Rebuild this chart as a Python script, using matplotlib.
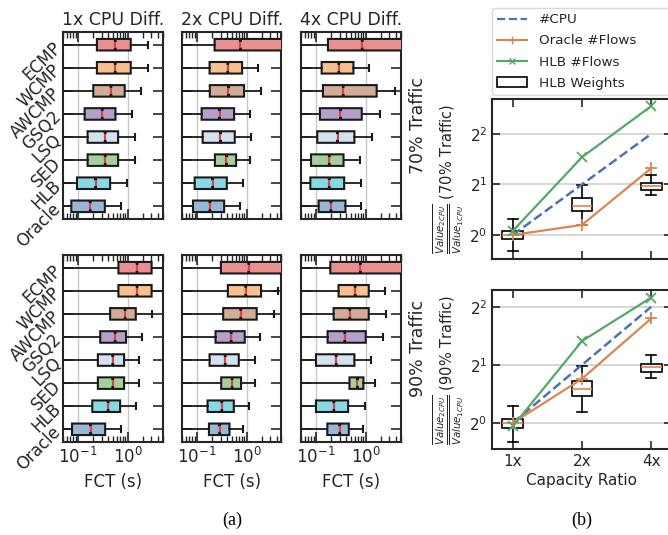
import matplotlib
matplotlib.use("Agg")
import matplotlib.pyplot as plt
from matplotlib.lines import Line2D
from matplotlib.patches import Patch
from matplotlib.ticker import LogLocator, NullFormatter, FixedLocator

plt.rcParams['font.family'] = ['DejaVu Sans']
plt.rcParams['mathtext.fontset'] = 'dejavusans'

# ---------------- data ----------------
schemes = ["ECMP", "WCMP", "AWCMP", "GSQ2", "LSQ", "SED", "HLB", "Oracle"]
box_colors = ["#e8908f", "#f7c08f", "#d3ac97", "#b3a1cc", "#d3e2ee", "#a7cf9c", "#87dae4", "#97b7d6"]
cpu_titles = ["1x CPU Diff.", "2x CPU Diff.", "4x CPU Diff."]
row_labels = ["70% Traffic", "90% Traffic"]

# FCT boxplot statistics (seconds), order = schemes
# 70% traffic
t70_1x_q1 = [0.24, 0.24, 0.203, 0.136, 0.156, 0.156, 0.0955, 0.0735]
t70_1x_med = [0.56, 0.56, 0.46, 0.307, 0.352, 0.352, 0.226, 0.176]
t70_1x_q3 = [1.15, 1.15, 0.87, 0.567, 0.641, 0.641, 0.443, 0.347]
t70_1x_hi = [2.5, 2.5, 1.88, 1.24, 1.38, 1.38, 0.955, 0.747]

t70_2x_q1 = [0.226, 0.179, 0.181, 0.124, 0.13, 0.229, 0.0898, 0.0832]
t70_2x_med = [0.747, 0.417, 0.43, 0.284, 0.297, 0.392, 0.206, 0.182]
t70_2x_q3 = [8.0, 0.807, 0.885, 0.558, 0.575, 0.612, 0.398, 0.352]
t70_2x_hi = [20.0, 1.71, 1.94, 1.18, 1.24, 1.17, 0.857, 0.747]

t70_4x_q1 = [0.174, 0.13, 0.138, 0.12, 0.106, 0.0794, 0.077, 0.113]
t70_4x_med = [0.85, 0.288, 0.352, 0.311, 0.271, 0.185, 0.185, 0.2]
t70_4x_q3 = [8.0, 0.567, 1.66, 0.832, 0.593, 0.358, 0.369, 0.392]
t70_4x_hi = [20.0, 1.18, 3.86, 1.9, 1.32, 0.77, 0.794, 0.794]

# 90% traffic
t90_1x_q1 = [0.65, 0.65, 0.443, 0.28, 0.251, 0.251, 0.194, 0.0759]
t90_1x_med = [1.54, 1.54, 0.885, 0.558, 0.501, 0.501, 0.404, 0.179]
t90_1x_q3 = [3.02, 3.02, 1.45, 0.926, 0.845, 0.845, 0.703, 0.352]
t90_1x_hi = [8.0, 8.0, 3.02, 1.9, 1.71, 1.71, 1.45, 0.747]

t90_2x_q1 = [0.302, 0.417, 0.336, 0.236, 0.179, 0.307, 0.163, 0.174]
t90_2x_med = [1.1, 0.955, 0.759, 0.486, 0.369, 0.509, 0.316, 0.284]
t90_2x_q3 = [8.0, 1.94, 1.585, 0.912, 0.692, 0.77, 0.55, 0.45]
t90_2x_hi = [20.0, 4.17, 3.47, 1.88, 1.45, 1.49, 1.1, 0.845]

t90_4x_q1 = [0.194, 0.284, 0.226, 0.171, 0.1, 0.471, 0.1, 0.169]
t90_4x_med = [0.78, 0.612, 0.479, 0.38, 0.255, 0.681, 0.229, 0.30]
t90_4x_q3 = [8.0, 1.15, 1.15, 1.0, 0.593, 0.898, 0.443, 0.457]
t90_4x_hi = [20.0, 2.47, 2.55, 2.22, 1.28, 1.51, 0.955, 0.898]

whisker_low = 0.01

panels = [
    [(t70_1x_q1, t70_1x_med, t70_1x_q3, t70_1x_hi),
     (t70_2x_q1, t70_2x_med, t70_2x_q3, t70_2x_hi),
     (t70_4x_q1, t70_4x_med, t70_4x_q3, t70_4x_hi)],
    [(t90_1x_q1, t90_1x_med, t90_1x_q3, t90_1x_hi),
     (t90_2x_q1, t90_2x_med, t90_2x_q3, t90_2x_hi),
     (t90_4x_q1, t90_4x_med, t90_4x_q3, t90_4x_hi)],
]

# Capacity-ratio panels (values as exponent of 2)
ratios = ["1x", "2x", "4x"]
cpu_ratio = [1, 2, 4]
oracle70 = [2 ** 0.0, 2 ** 0.2, 2 ** 1.32]
hlb70 = [2 ** 0.08, 2 ** 1.54, 2 ** 2.55]
oracle90 = [2 ** 0.0, 2 ** 0.76, 2 ** 1.80]
hlb90 = [2 ** -0.06, 2 ** 1.41, 2 ** 2.16]

w70_lo = [2 ** -0.32, 2 ** 0.20, 2 ** 0.785]
w70_q1 = [2 ** -0.08, 2 ** 0.475, 2 ** 0.885]
w70_med = [2 ** 0.0, 2 ** 0.58, 2 ** 0.97]
w70_q3 = [2 ** 0.085, 2 ** 0.74, 2 ** 1.02]
w70_hi = [2 ** 0.31, 2 ** 0.99, 2 ** 1.19]

w90_lo = [2 ** -0.33, 2 ** 0.18, 2 ** 0.776]
w90_q1 = [2 ** -0.09, 2 ** 0.46, 2 ** 0.885]
w90_med = [2 ** 0.0, 2 ** 0.58, 2 ** 0.966]
w90_q3 = [2 ** 0.07, 2 ** 0.73, 2 ** 1.017]
w90_hi = [2 ** 0.29, 2 ** 0.98, 2 ** 1.17]

# ---------------- figure ----------------
W, H = 668, 535
fig = plt.figure(figsize=(W / 100, H / 100), dpi=100)


def fax(x0, top, w, h):
    return fig.add_axes([x0 / W, 1 - (top + h) / H, w / W, h / H])


spine_col = "#262626"
left_x0 = [63, 182, 301]
row_tops = [32, 255]
positions = list(range(len(schemes), 0, -1))

for r in range(2):
    for c in range(3):
        ax = fax(left_x0[c], row_tops[r], 99.5, 187)
        q1, med, q3, hi = panels[r][c]
        stats = []
        for i in range(len(schemes)):
            stats.append(dict(med=med[i], q1=q1[i], q3=q3[i], whislo=whisker_low,
                              whishi=hi[i], cilo=med[i] * 0.96, cihi=med[i] * 1.04,
                              fliers=[]))
        bp = ax.bxp(stats, positions=positions, widths=0.5, orientation='horizontal',
                    patch_artist=True, shownotches=True, showfliers=False,
                    boxprops=dict(edgecolor="#1a1a1a", linewidth=1.5),
                    medianprops=dict(color="#d9434a", linewidth=1.6),
                    whiskerprops=dict(color="#1a1a1a", linewidth=1.3),
                    capprops=dict(color="#1a1a1a", linewidth=1.5), zorder=3)
        for patch, col in zip(bp['boxes'], box_colors):
            patch.set_facecolor(col)
        ax.set_xscale('log')
        ax.set_xlim(0.05, 5)
        ax.set_ylim(0.45, len(schemes) + 0.55)
        ax.xaxis.set_major_locator(LogLocator(base=10, numticks=10))
        ax.xaxis.set_minor_locator(LogLocator(base=10, subs=range(2, 10), numticks=20))
        ax.xaxis.set_minor_formatter(NullFormatter())
        ax.grid(axis='x', which='major', color='#c8c8c8', linewidth=1.0, zorder=0)
        ax.tick_params(axis='both', which='both', direction='in', top=True, right=True,
                       colors=spine_col, labelsize=12)
        ax.tick_params(axis='x', which='major', length=7, width=1.2)
        ax.tick_params(axis='x', which='minor', length=4, width=1.0)
        ax.tick_params(axis='y', length=7, width=1.2)
        ax.set_yticks(positions)
        for sp in ax.spines.values():
            sp.set_color(spine_col)
            sp.set_linewidth(1.5)
        if c == 0:
            ax.set_yticklabels(schemes, rotation=45, ha='right', va='center',
                               rotation_mode='anchor', fontsize=12, color='#262626')
        else:
            ax.set_yticklabels([])
        if r == 0:
            ax.set_title(cpu_titles[c], fontsize=12.5, color='#262626', pad=5)
            ax.set_xticklabels([])
        else:
            ax.set_xlabel("FCT (s)", fontsize=12, color='#262626', labelpad=4)
            ax.tick_params(axis='x', labelcolor='#262626')
        if c == 2:
            ax.yaxis.set_label_position('right')
            ax.set_ylabel(row_labels[r], fontsize=12.5, color='#262626', labelpad=6)

# ---------------- right panels ----------------
right_tops = [99, 290]
right_h = [160, 159]
ratio_data = [
    (oracle70, hlb70, (w70_lo, w70_q1, w70_med, w70_q3, w70_hi)),
    (oracle90, hlb90, (w90_lo, w90_q1, w90_med, w90_q3, w90_hi)),
]
ylims = [(2 ** -0.475, 2 ** 2.69), (2 ** -0.45, 2 ** 2.29)]
xpos = list(range(len(ratios)))
c_blue, c_orange, c_green = "#4c72b0", "#dd8452", "#55a868"

for k in range(2):
    ax = fax(492, right_tops[k], 180, right_h[k])
    orc, hlb, (lo, q1, md, q3, hi) = ratio_data[k]
    stats = [dict(med=md[i], q1=q1[i], q3=q3[i], whislo=lo[i], whishi=hi[i], fliers=[])
             for i in range(len(ratios))]
    ax.bxp(stats, positions=xpos, widths=0.3, patch_artist=True, showfliers=False,
           boxprops=dict(facecolor='white', edgecolor='black', linewidth=1.2),
           medianprops=dict(color=c_orange, linewidth=1.2),
           whiskerprops=dict(color='black', linewidth=1.2),
           capprops=dict(color='black', linewidth=1.2), zorder=3)
    ax.plot(xpos, cpu_ratio, '--', color=c_blue, linewidth=1.8, zorder=4)
    ax.plot(xpos, orc, '-', marker='+', color=c_orange, linewidth=1.6, markersize=8,
            markeredgewidth=1.3, zorder=5)
    ax.plot(xpos, hlb, '-', marker='x', color=c_green, linewidth=1.6, markersize=7,
            markeredgewidth=1.3, zorder=6)
    ax.set_yscale('log', base=2)
    ax.set_ylim(*ylims[k])
    ax.set_xlim(-0.3, 2.3)
    ax.yaxis.set_major_locator(FixedLocator([1, 2, 4]))
    ax.yaxis.set_minor_locator(FixedLocator([]))
    ax.set_yticks([1, 2, 4])
    ax.set_yticklabels([r'$2^0$', r'$2^1$', r'$2^2$'])
    ax.set_xticks(xpos)
    ax.grid(axis='y', color='#cfcfcf', linewidth=1.2, zorder=0)
    ax.tick_params(axis='both', direction='in', top=True, right=True, length=6, width=1.2,
                   colors=spine_col, labelsize=11)
    for sp in ax.spines.values():
        sp.set_color(spine_col)
        sp.set_linewidth(1.5)
    lbl = r'$\frac{\overline{Value_{2CPU}}}{\overline{Value_{1CPU}}}$ ' + '(' + row_labels[k] + ')'
    ax.set_ylabel(lbl, fontsize=10.5, color='#262626', labelpad=2)
    if k == 0:
        ax.set_xticklabels([])
    else:
        ax.set_xticklabels(ratios)
        ax.set_xlabel("Capacity Ratio", fontsize=11, color='#262626', labelpad=3)

handles = [Line2D([], [], color=c_blue, linestyle='--', linewidth=1.6),
           Line2D([], [], color=c_orange, marker='+', linewidth=1.5, markersize=6),
           Line2D([], [], color=c_green, marker='x', linewidth=1.5, markersize=5),
           Patch(facecolor='white', edgecolor='black', linewidth=1.2)]
leg = fig.legend(handles, ["#CPU", "Oracle #Flows", "HLB #Flows", "HLB Weights"],
                 loc='upper left', bbox_to_anchor=(492 / W, 0, 182 / W, 1 - 8 / H),
                 mode='expand', fontsize=9.7,
                 frameon=True, fancybox=True, edgecolor='#d0d0d0', handlelength=2.2,
                 handletextpad=0.9, borderpad=0.4, labelspacing=0.6, borderaxespad=0)
for t in leg.get_texts():
    t.set_color('#262626')

fig.text(232 / W, 1 - 520 / H, "(a)", ha='center', va='center', fontsize=13,
         family='Liberation Serif')
fig.text(582 / W, 1 - 520 / H, "(b)", ha='center', va='center', fontsize=13,
         family='Liberation Serif')

fig.savefig("out.png", dpi=100)
